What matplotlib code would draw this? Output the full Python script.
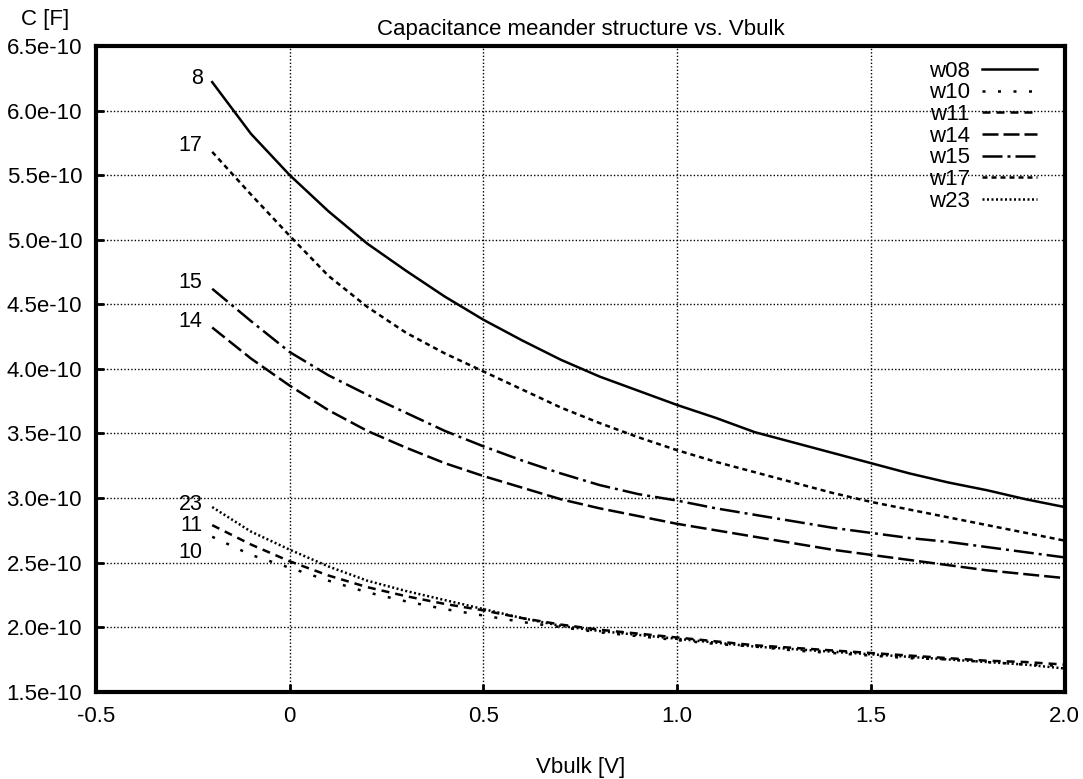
import numpy as np
import matplotlib.pyplot as plt

plt.rcParams['font.family'] = ['Liberation Sans', 'DejaVu Sans']

vbulk = [-0.2, -0.1, 0.0, 0.1, 0.2, 0.3, 0.4, 0.5, 0.6, 0.7, 0.8, 0.9, 1.0,
         1.1, 1.2, 1.3, 1.4, 1.5, 1.6, 1.7, 1.8, 1.9, 2.0]

# capacitance in units of 1e-10 F
w08 = [6.22, 5.82, 5.50, 5.22, 4.97, 4.76, 4.56, 4.38, 4.22, 4.07, 3.94, 3.83, 3.72,
       3.62, 3.51, 3.43, 3.35, 3.27, 3.19, 3.12, 3.06, 2.99, 2.93]
w10 = [2.70, 2.56, 2.46, 2.36, 2.27, 2.20, 2.14, 2.09, 2.04, 2.00, 1.96, 1.93, 1.90,
       1.87, 1.85, 1.82, 1.80, 1.78, 1.76, 1.75, 1.73, 1.71, 1.70]
w11 = [2.79, 2.64, 2.51, 2.40, 2.31, 2.24, 2.18, 2.13, 2.07, 2.02, 1.98, 1.95, 1.92,
       1.89, 1.86, 1.84, 1.82, 1.80, 1.78, 1.76, 1.74, 1.73, 1.71]
w14 = [4.32, 4.08, 3.87, 3.68, 3.52, 3.39, 3.27, 3.17, 3.08, 2.99, 2.92, 2.86, 2.80,
       2.75, 2.70, 2.65, 2.60, 2.56, 2.52, 2.48, 2.44, 2.41, 2.38]
w15 = [4.62, 4.37, 4.13, 3.95, 3.80, 3.66, 3.52, 3.40, 3.29, 3.19, 3.10, 3.03, 2.98,
       2.92, 2.87, 2.82, 2.77, 2.73, 2.69, 2.66, 2.62, 2.58, 2.54]
w17 = [5.68, 5.35, 5.03, 4.72, 4.48, 4.28, 4.12, 3.98, 3.84, 3.70, 3.58, 3.47, 3.37,
       3.28, 3.20, 3.12, 3.04, 2.97, 2.91, 2.85, 2.79, 2.73, 2.67]
w23 = [2.93, 2.74, 2.60, 2.47, 2.36, 2.28, 2.21, 2.14, 2.07, 2.01, 1.97, 1.94, 1.91,
       1.88, 1.85, 1.83, 1.81, 1.79, 1.77, 1.75, 1.73, 1.71, 1.68]

names = ['w08', 'w10', 'w11', 'w14', 'w15', 'w17', 'w23']
labels = ['8', '10', '11', '14', '15', '17', '23']
series = [w08, w10, w11, w14, w15, w17, w23]
# dash patterns (scaled by line width)
styles = ['-', (0, (1.2, 5)), (0, (3.2, 2.4)), (0, (6.4, 2)), (0, (8, 2, 1.2, 2)),
          (0, (2, 1.6)), (0, (0.8, 1))]

x_ticks = [-0.5, 0, 0.5, 1.0, 1.5, 2.0]
x_ticklabels = ['-0.5', '0', '0.5', '1.0', '1.5', '2.0']
y_ticks = [1.5, 2.0, 2.5, 3.0, 3.5, 4.0, 4.5, 5.0, 5.5, 6.0, 6.5]
y_ticklabels = ['%.1fe-10' % v for v in y_ticks]

fig = plt.figure(figsize=(10.83, 7.79), dpi=100)
ax = fig.add_axes([0.0886, 0.112, 0.8945, 0.829])

for name, y, ls in zip(names, series, styles):
    ax.plot(vbulk, np.array(y) * 1e-10, color='black', linestyle=ls, lw=1.8, label=name)

# curve labels at left end
offsets = {'8': 0.03, '10': -0.12, '11': 0.0, '14': 0.05, '15': 0.05, '17': 0.05, '23': 0.02}
for lab, y in zip(labels, series):
    ax.text(vbulk[0] - 0.025, (y[0] + offsets[lab]) * 1e-10, lab, ha='right', va='center',
            fontsize=15.5)

ax.set_xlim(-0.5, 2.0)
ax.set_ylim(1.5e-10, 6.5e-10)
ax.set_xticks(x_ticks)
ax.set_xticklabels(x_ticklabels)
ax.set_yticks([v * 1e-10 for v in y_ticks])
ax.set_yticklabels(y_ticklabels)
ax.tick_params(labelsize=16, direction='in', length=6, width=2, pad=10)
ax.grid(True, color='black', linestyle=(0, (1, 1.5)), lw=1)

for s in ax.spines.values():
    s.set_linewidth(3)

ax.set_title('Capacitance meander structure vs. Vbulk', fontsize=16, pad=8)
ax.set_xlabel('Vbulk [V]', fontsize=16, labelpad=22)
fig.text(0.042, 0.975, 'C [F]', fontsize=16, ha='center', va='center')

leg = ax.legend(loc='upper right', bbox_to_anchor=(0.981, 0.991), frameon=False,
                markerfirst=False, fontsize=16, handlelength=2.5, labelspacing=0.03,
                borderaxespad=0, handletextpad=0.55)

plt.savefig('out.png', dpi=100)
